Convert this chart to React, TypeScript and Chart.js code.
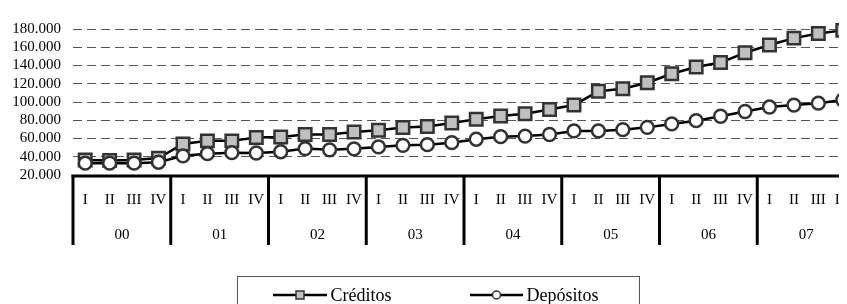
import React, { useEffect, useRef } from 'react';
import { Chart, registerables } from 'chart.js';

Chart.register(...registerables);

const quarters = ['I', 'II', 'III', 'IV'];
const years = ['00', '01', '02', '03', '04', '05', '06', '07'];
const categories = years.flatMap((y) => quarters.map((q) => `${q} ${y}`));

const creditos = [
  36500, 36000, 36500, 38500,
  54000, 57400, 57400, 61000,
  61700, 64400, 64400, 67200,
  69000, 72100, 73200, 77000,
  81200, 84700, 87200, 91700,
  96700, 111700, 114500, 121100,
  131000, 138300, 143200, 154000,
  162400, 170000, 175000, 178500,
];

const depositos = [
  33000, 33000, 33000, 34000,
  41000, 43400, 44500, 44100,
  45500, 49000, 47600, 48700,
  50800, 52500, 53200, 55400,
  59200, 62000, 62700, 64400,
  68300, 68300, 69700, 72200,
  76000, 79500, 84400, 89600,
  94500, 96600, 98700, 102200,
];

const yTicks = { min: 20000, max: 180000, step: 20000 };

const FONT = "'Liberation Serif', 'Times New Roman', serif";

const fmt = (v: number) => String(v).replace(/\B(?=(\d{3})+(?!\d))/g, '.');

const axisPlugin = {
  id: 'axisDecor',
  afterDraw(chart: any) {
    const ctx = chart.ctx;
    const x = chart.scales.x;
    const { left, right, bottom } = chart.chartArea;
    const step = x.getPixelForValue(1) - x.getPixelForValue(0);
    ctx.save();
    // axis line
    ctx.strokeStyle = '#000';
    ctx.lineWidth = 3;
    ctx.beginPath();
    ctx.moveTo(left - 1.5, bottom + 1);
    ctx.lineTo(right + 2, bottom + 1);
    ctx.stroke();
    // year separators
    for (let k = 0; k <= years.length; k++) {
      const bx = x.getPixelForValue(k * quarters.length) - step / 2;
      ctx.beginPath();
      ctx.moveTo(bx, bottom);
      ctx.lineTo(bx, bottom + 70);
      ctx.stroke();
    }
    // quarter labels
    ctx.fillStyle = '#000';
    ctx.font = `15px ${FONT}`;
    ctx.textAlign = 'center';
    ctx.textBaseline = 'alphabetic';
    categories.forEach((_, i) => {
      ctx.fillText(quarters[i % quarters.length], x.getPixelForValue(i), bottom + 28.5);
    });
    // year labels
    years.forEach((y, k) => {
      const cx = x.getPixelForValue(k * quarters.length) + step * 1.5;
      ctx.fillText(y, cx, bottom + 64);
    });
    // legend
    ctx.strokeStyle = '#555';
    ctx.lineWidth = 1;
    ctx.strokeRect(229.5, 268.5, 402, 40);
    const ly = 287;
    const items = [
      { x0: 265, x1: 319, ds: chart.data.datasets[0] },
      { x0: 462, x1: 515, ds: chart.data.datasets[1] },
    ];
    items.forEach((it) => {
      ctx.strokeStyle = '#000';
      ctx.lineWidth = 2.5;
      ctx.beginPath();
      ctx.moveTo(it.x0, ly);
      ctx.lineTo(it.x1, ly);
      ctx.stroke();
      const cx = (it.x0 + it.x1) / 2;
      ctx.fillStyle = it.ds.pointBackgroundColor;
      ctx.strokeStyle = it.ds.pointBorderColor;
      ctx.lineWidth = 1.5;
      ctx.beginPath();
      if (it.ds.pointStyle === 'rect') {
        ctx.rect(cx - 4, ly - 4, 8, 8);
      } else {
        ctx.arc(cx, ly, 4, 0, Math.PI * 2);
      }
      ctx.fill();
      ctx.stroke();
      ctx.fillStyle = '#000';
      ctx.font = `18px ${FONT}`;
      ctx.textAlign = 'left';
      ctx.textBaseline = 'alphabetic';
      ctx.fillText(it.ds.label, it.x1 + 3.5, ly + 5.5);
    });
    ctx.restore();
  },
};

export default function App() {
  const ref = useRef<HTMLCanvasElement>(null);
  useEffect(() => {
    document.documentElement.style.overflow = 'hidden';
    const chart = new Chart(ref.current!, {
      type: 'line',
      data: {
        labels: categories,
        datasets: [
          {
            label: 'Créditos',
            data: creditos,
            borderColor: '#000',
            borderWidth: 2.5,
            pointStyle: 'rect',
            pointRadius: 8.8,
            pointHoverRadius: 8.8,
            pointBackgroundColor: '#c0c0c0',
            pointBorderColor: '#333',
            pointBorderWidth: 2.5,
            tension: 0,
            clip: false,
            order: 2,
          } as any,
          {
            label: 'Depósitos',
            data: depositos,
            borderColor: '#000',
            borderWidth: 2.5,
            pointStyle: 'circle',
            pointRadius: 6.4,
            pointHoverRadius: 6.4,
            pointBackgroundColor: '#ffffff',
            pointBorderColor: '#333',
            pointBorderWidth: 2.5,
            tension: 0,
            clip: false,
            order: 1,
          } as any,
        ],
      },
      options: {
        animation: false,
        responsive: false,
        events: [],
        layout: { autoPadding: false, padding: { top: 14.7, left: 0, right: 0, bottom: 0 } },
        plugins: { legend: { display: false }, tooltip: { enabled: false } },
        scales: {
          x: {
            type: 'category',
            offset: true,
            grid: { display: false },
            ticks: { display: false },
            border: { display: false },
            afterFit: (s: any) => {
              s.height = 129;
            },
          },
          y: {
            min: yTicks.min,
            max: yTicks.max,
            ticks: {
              stepSize: yTicks.step,
              autoSkip: false,
              padding: 12,
              color: '#000',
              font: { family: FONT, size: 15 },
              callback: (v: any) => fmt(Number(v)),
            },
            grid: {
              drawTicks: false,
              color: (c: any) => (c.tick && c.tick.value === yTicks.min ? 'rgba(0,0,0,0)' : '#555'),
              lineWidth: 1,
            },
            border: { display: false, dash: [9, 5] },
            afterFit: (s: any) => {
              s.width = 65;
            },
          },
        },
      },
      plugins: [axisPlugin],
    });
    return () => chart.destroy();
  }, []);
  return (
    <div style={{ width: 839, height: 296, overflow: 'hidden' }}>
      <canvas ref={ref} width={847} height={296} style={{ display: 'block' }} />
    </div>
  );
}
